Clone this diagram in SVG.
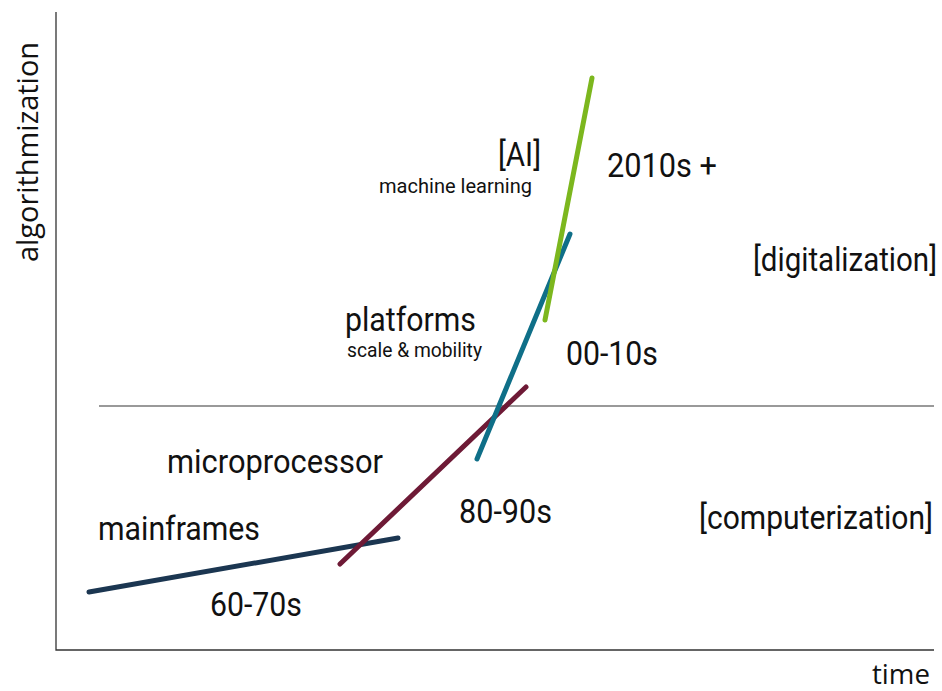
<svg xmlns="http://www.w3.org/2000/svg" width="942" height="691" viewBox="0 0 942 691">
<style>
.t{font-family:Roboto,"Liberation Sans",sans-serif;fill:#111;}
.o{font-family:"Open Sans","Noto Sans",sans-serif;fill:#111;font-size:30px;}
.L{font-size:34px;}
.S{font-size:20px;}
.ax{stroke:#333;stroke-width:1.3;fill:none;}
.mid{stroke:#777;stroke-width:1.3;fill:none;}
.era{stroke-width:5;stroke-linecap:round;fill:none;}
</style>
<rect width="942" height="691" fill="#fff"/>
<g id="axes">
<path class="ax" d="M56,12 V650 H934"/>
<line class="mid" x1="99" y1="406" x2="934" y2="406"/>
</g>
<g id="connectors">
<line class="era" stroke="#1b3651" x1="89" y1="592" x2="398" y2="538"/>
<line class="era" stroke="#6e1a36" x1="340" y1="564" x2="526" y2="387"/>
<line class="era" stroke="#0f6f88" x1="477" y1="459" x2="570" y2="234"/>
<line class="era" stroke="#7cb71e" x1="592" y1="78" x2="545" y2="320"/>
</g>
<g id="mainframes"><text class="t L" x="98" y="540" textLength="162" lengthAdjust="spacingAndGlyphs">mainframes</text>
<text class="t L" x="210" y="616" textLength="92" lengthAdjust="spacingAndGlyphs">60-70s</text></g>
<g id="microprocessor"><text class="t L" x="167" y="473" textLength="216" lengthAdjust="spacingAndGlyphs">microprocessor</text>
<text class="t L" x="459" y="523" textLength="93" lengthAdjust="spacingAndGlyphs">80-90s</text></g>
<g id="platforms"><text class="t L" x="345" y="331" textLength="131" lengthAdjust="spacingAndGlyphs">platforms</text>
<text class="t S" x="347" y="357" textLength="135" lengthAdjust="spacingAndGlyphs">scale &amp; mobility</text>
<text class="t L" x="566" y="365" textLength="92" lengthAdjust="spacingAndGlyphs">00-10s</text></g>
<g id="ai"><text class="t L" x="498" y="166" textLength="43" lengthAdjust="spacingAndGlyphs">[AI]</text>
<text class="t S" x="379" y="193" textLength="153" lengthAdjust="spacingAndGlyphs">machine learning</text>
<text class="t L" x="607" y="177" textLength="110" lengthAdjust="spacingAndGlyphs">2010s +</text></g>
<g id="digitalization"><text class="t L" transform="translate(753,271) scale(0.875,1)" x="0" y="0" textLength="210.3" lengthAdjust="spacingAndGlyphs">[digitalization]</text></g>
<g id="computerization"><text class="t L" transform="translate(699,529) scale(0.8966,1)" x="0" y="0" textLength="261" lengthAdjust="spacingAndGlyphs">[computerization]</text></g>
<g id="labels">
<text class="o" transform="translate(38,262) rotate(-90)" textLength="220" lengthAdjust="spacingAndGlyphs">algorithmization</text>
<text class="o" style="font-size:28px" transform="translate(872,683.5) scale(0.998,1)" x="0" y="0" textLength="58.1" lengthAdjust="spacingAndGlyphs">time</text>
</g>
</svg>
